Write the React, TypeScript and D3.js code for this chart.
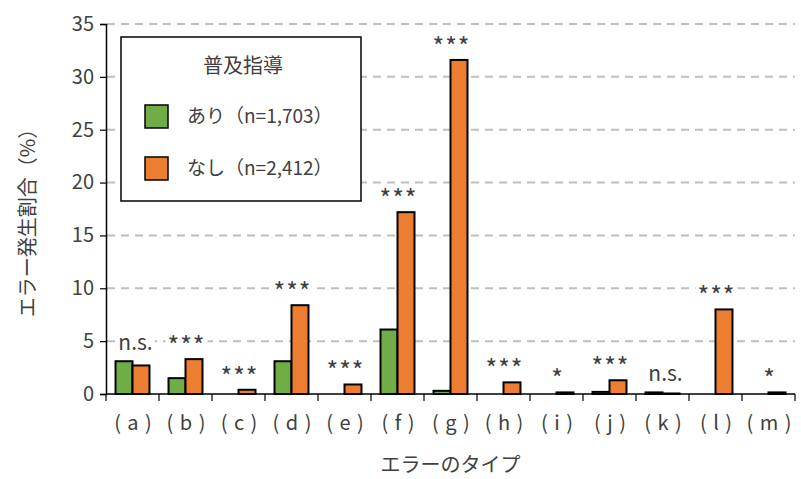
import React, { useEffect, useRef } from 'react';
import * as d3 from 'd3';

const categories = ['a', 'b', 'c', 'd', 'e', 'f', 'g', 'h', 'i', 'j', 'k', 'l', 'm'];
const withGuidance = [3.1, 1.5, 0, 3.1, 0, 6.1, 0.3, 0, 0, 0.2, 0.15, 0, 0];
const withoutGuidance = [2.7, 3.3, 0.4, 8.4, 0.9, 17.2, 31.6, 1.1, 0.15, 1.3, 0.05, 8.0, 0.15];
const significance = ['n.s.', '***', '***', '***', '***', '***', '***', '***', '*', '***', 'n.s.', '***', '*'];
const yTicks = [0, 5, 10, 15, 20, 25, 30, 35];
const seriesNames = ['あり（n=1,703）', 'なし（n=2,412）'];
const seriesColors = ['#70ad47', '#ed7d31'];

const FONT = '"Noto Sans CJK JP", "Noto Sans", sans-serif';
const TEXT = '#404040';

const App: React.FC = () => {
    const ref = useRef<SVGSVGElement | null>(null);

    useEffect(() => {
        if (!ref.current) return;
        const left = 106, right = 795, top = 24, bottom = 394;

        const svg = d3.select(ref.current);
        svg.selectAll('*').remove();

        const x0 = d3.scaleBand<string>().domain(categories).range([left, right]);
        const x1 = d3.scaleBand<number>().domain([0, 1]).range([0, x0.bandwidth()]).paddingOuter(0.56);
        const y = d3.scaleLinear().domain([0, 35]).range([bottom, top]);

        // gridlines
        svg.append('g')
            .selectAll('line')
            .data(yTicks.filter(d => d > 0))
            .enter()
            .append('line')
            .attr('x1', left + 1)
            .attr('x2', right)
            .attr('y1', d => y(d))
            .attr('y2', d => y(d))
            .attr('stroke', '#bfbfbf')
            .attr('stroke-width', 2)
            .attr('stroke-dasharray', '8,6');

        // bars
        const groups = svg.append('g')
            .selectAll('g')
            .data(categories)
            .enter()
            .append('g')
            .attr('transform', d => `translate(${x0(d)},0)`);

        groups.each(function (c, i) {
            const vals = [withGuidance[i], withoutGuidance[i]];
            d3.select(this)
                .selectAll('rect')
                .data(vals.map((v, k) => ({ v, k })).filter(d => d.v > 0))
                .enter()
                .append('rect')
                .attr('x', d => x1(d.k)!)
                .attr('y', d => y(d.v))
                .attr('width', x1.bandwidth())
                .attr('height', d => y(0) - y(d.v))
                .attr('fill', d => seriesColors[d.k])
                .attr('stroke', '#000')
                .attr('stroke-width', 2);
        });

        // significance labels
        const labels = svg.append('g');
        categories.forEach((c, i) => {
            const m = Math.max(withGuidance[i], withoutGuidance[i]);
            const cx = x0(c)! + x0.bandwidth() / 2;
            const cy = y(m) - 18;
            const isStar = significance[i] !== 'n.s.';
            const g = labels.append('g');
            const t = g.append('text')
                .attr('x', cx + (isStar ? 1 : 3))
                .attr('y', isStar ? cy + 14 : cy + 7)
                .attr('text-anchor', 'middle')
                .attr('font-family', FONT)
                .attr('font-size', isStar ? 25 : 21)
                .attr('letter-spacing', isStar ? 1 : 0)
                .attr('fill', TEXT)
                .text(significance[i]);
            const bb = (t.node() as SVGTextElement).getBBox();
            g.insert('rect', 'text')
                .attr('x', bb.x - 2)
                .attr('y', cy - 10)
                .attr('width', bb.width + 4)
                .attr('height', 20)
                .attr('fill', '#fff');
        });

        // y axis
        const yAxis = svg.append('g')
            .attr('transform', `translate(${left},0)`)
            .call(d3.axisLeft(y).tickValues(yTicks).tickSize(6).tickPadding(6));
        yAxis.select('.domain').attr('stroke', '#000').attr('stroke-width', 1.5);
        yAxis.selectAll('.tick line').attr('stroke', '#000').attr('stroke-width', 1.2);
        yAxis.selectAll('.tick text')
            .attr('font-family', FONT)
            .attr('font-size', 20)
            .attr('fill', TEXT);

        // x axis
        const xg = svg.append('g').attr('transform', `translate(0,${bottom})`);
        xg.append('line')
            .attr('x1', left).attr('x2', right)
            .attr('stroke', '#000').attr('stroke-width', 1.5);
        xg.selectAll('.tk')
            .data(d3.range(categories.length + 1))
            .enter()
            .append('line')
            .attr('x1', d => left + d * x0.step())
            .attr('x2', d => left + d * x0.step())
            .attr('y1', 0).attr('y2', 7)
            .attr('stroke', '#000').attr('stroke-width', 1.2);
        xg.selectAll('.lbl')
            .data(categories)
            .enter()
            .append('text')
            .attr('x', d => x0(d)! + x0.bandwidth() / 2 + 1)
            .attr('y', 36)
            .attr('text-anchor', 'middle')
            .attr('font-family', FONT)
            .attr('font-size', 20)
            .attr('letter-spacing', 1)
            .attr('fill', TEXT)
            .text(d => `( ${d} )`);

        // axis titles
        svg.append('text')
            .attr('x', (left + right) / 2)
            .attr('y', 472)
            .attr('text-anchor', 'middle')
            .attr('font-family', FONT)
            .attr('font-size', 20)
            .attr('fill', TEXT)
            .text('エラーのタイプ');

        svg.append('text')
            .attr('transform', 'translate(35,218) rotate(-90)')
            .attr('text-anchor', 'middle')
            .attr('font-family', FONT)
            .attr('font-size', 20)
            .attr('fill', TEXT)
            .text('エラー発生割合（%）');

        // legend
        const lg = svg.append('g');
        lg.append('rect')
            .attr('x', 121).attr('y', 37)
            .attr('width', 240).attr('height', 164)
            .attr('fill', '#fff')
            .attr('stroke', '#000').attr('stroke-width', 1.5);
        lg.append('text')
            .attr('x', 243).attr('y', 73)
            .attr('text-anchor', 'middle')
            .attr('font-family', FONT)
            .attr('font-size', 20)
            .attr('fill', TEXT)
            .text('普及指導');
        seriesNames.forEach((name, i) => {
            const yy = 105 + i * 52;
            lg.append('rect')
                .attr('x', 145).attr('y', yy)
                .attr('width', 23).attr('height', 23)
                .attr('fill', seriesColors[i])
                .attr('stroke', '#000').attr('stroke-width', 1.5);
            lg.append('text')
                .attr('x', 187).attr('y', yy + 18)
                .attr('font-family', FONT)
                .attr('font-size', 19)
                .attr('fill', TEXT)
                .text(name);
        });
    }, []);

    return (
        <svg
            ref={ref}
            width={801}
            height={479}
            style={{ position: 'absolute', left: 0, top: 0, background: '#fff' }}
        />
    );
};

export default App;
